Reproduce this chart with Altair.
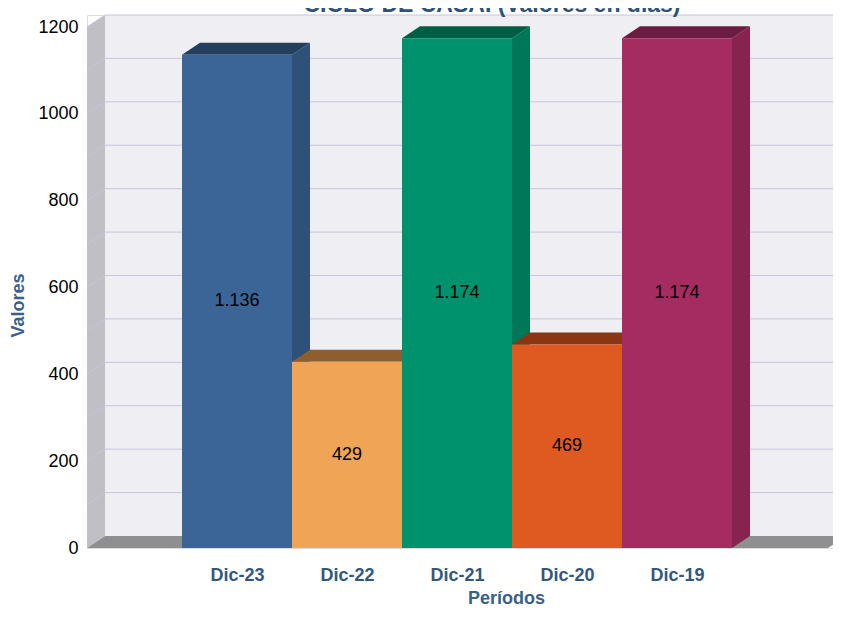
import json
import altair as alt
import pandas as pd

# ---------------- data ----------------
categories = ["Dic-23", "Dic-22", "Dic-21", "Dic-20", "Dic-19"]
values = [1136, 429, 1174, 469, 1174]
value_labels = ["1.136", "429", "1.174", "469", "1.174"]
y_ticks = [0, 200, 400, 600, 800, 1000, 1200]
grid_values = [100, 200, 300, 400, 500, 600, 700, 800, 900, 1000, 1100, 1200]
chart_title = "CICLO DE CASAI (Valores en días)"
x_title = "Períodos"
y_title = "Valores"

# ---------------- style ----------------
front_colors = ["#3A6596", "#F0A556", "#00926C", "#DE5A20", "#A42C60"]
side_colors = ["#2F5079", "#B57C40", "#007756", "#A8441A", "#86234F"]
top_colors = ["#243E5E", "#8E5E2E", "#005E42", "#8A3614", "#6B1C40"]
BACK_WALL = "#EFEEF3"
SIDE_WALL = "#C0BFC5"
FLOOR = "#8F8F91"
GRID = "#C6C5DC"

W, H = 746, 533                 # plot area (px)
PX_PER_CAT = 110                # px per category step
X_MIN = -1.3636                 # left (front) edge of the walls, in category units
X_MAX = X_MIN + W / PX_PER_CAT
X_FLOOR_END = 5.373
Y_TOP = 1200
DEPTH_X_PX, DEPTH_Y_PX = 18, 12
k = (H - DEPTH_Y_PX) / Y_TOP
DX = DEPTH_X_PX / PX_PER_CAT
DY = DEPTH_Y_PX / k
Y_MAX = Y_TOP + DY

xscale = alt.Scale(domain=[X_MIN, X_MAX], nice=False, zero=False)
yscale = alt.Scale(domain=[0, Y_MAX], nice=False, zero=False)

label_expr = json.dumps(categories) + "[datum.value]"
X_AX = alt.Axis(
    values=list(range(len(categories))), labelExpr=label_expr,
    domain=False, ticks=False, tickSize=0, grid=False,
    labelFont="Liberation Sans", labelFontWeight="bold", labelFontSize=18,
    labelColor="#34587A", labelPadding=27, labelBaseline="middle",
    labelFlush=False, labelOverlap=False,
    title=x_title, titleFont="Liberation Sans", titleFontWeight="bold",
    titleFontSize=18, titleColor="#3A6088", titleX=419, titleY=50,
    titleAlign="center", titleBaseline="middle")
Y_AX = alt.Axis(
    values=y_ticks, format="d", domain=False, ticks=False, tickSize=0, grid=False,
    labelFont="Liberation Sans", labelFontSize=18, labelColor="#000000",
    labelPadding=9,
    title=y_title, titleFont="Liberation Sans", titleFontWeight="bold",
    titleFontSize=18, titleColor="#3A6088", titleX=-69, titleY=290,
    titleAlign="center", titleBaseline="middle", titleAngle=-90)


def XE(f):
    return alt.X(f, scale=xscale, axis=X_AX)


def YE(f):
    return alt.Y(f, scale=yscale, axis=Y_AX, stack=None)


def side_poly(key, x0, ylo, yhi, color):
    pts = [(x0, ylo), (x0, yhi), (x0 + DX, yhi + DY), (x0 + DX, ylo + DY)]
    return [dict(key=key, i=j, x=px, y=py, color=color) for j, (px, py) in enumerate(pts)]


def top_poly(key, xa, xb, v, color):
    pts = [(xa, v), (xb, v), (xb + DX, v + DY), (xa + DX, v + DY)]
    return [dict(key=key, i=j, x=px, y=py, color=color) for j, (px, py) in enumerate(pts)]


def poly_layer(rows):
    return alt.Chart(pd.DataFrame(rows)).mark_line(
        filled=True, interpolate="linear-closed", strokeWidth=0
    ).encode(
        x=XE("x:Q"),
        y=YE("y:Q"),
        detail="key:N",
        order=alt.Order("i:Q"),
        fill=alt.Fill("color:N", scale=None),
    )


# back wall
back_df = pd.DataFrame([dict(x=X_MIN + DX, x2=X_MAX + 1, y=DY, y2=Y_MAX, color=BACK_WALL)])
back_wall = alt.Chart(back_df).mark_rect().encode(
    x=XE("x:Q"), x2="x2:Q", y=YE("y:Q"), y2="y2:Q",
    color=alt.Color("color:N", scale=None),
)
left_wall = poly_layer(side_poly("wall", X_MIN, 0, Y_TOP, SIDE_WALL))
floor = poly_layer(top_poly("floor", X_MIN, X_FLOOR_END, 0, FLOOR))

# grid lines (back wall + left wall)
grid_rows = []
for g in grid_values:
    grid_rows.append(dict(x=X_MIN + DX, x2=X_MAX + 1, y=g + DY, y2=g + DY))
    grid_rows.append(dict(x=X_MIN, x2=X_MIN + DX, y=g, y2=g + DY))
grid = alt.Chart(pd.DataFrame(grid_rows)).mark_rule(color=GRID, strokeWidth=1).encode(
    x=XE("x:Q"), x2="x2:Q", y=YE("y:Q"), y2="y2:Q",
)

# bars
side_rows, top_rows, front_rows = [], [], []
for i, (cat, v) in enumerate(zip(categories, values)):
    side_rows += side_poly(cat, i + 0.5, 0, v, side_colors[i])
    top_rows += top_poly(cat, i - 0.5, i + 0.5, v, top_colors[i])
    front_rows.append(dict(cat=cat, x0=i - 0.5, x1=i + 0.5, xc=i, v0=0, v1=v,
                           mid=v / 2, lab=value_labels[i], color=front_colors[i]))
front_df = pd.DataFrame(front_rows)

sides = poly_layer(side_rows)
tops = poly_layer(top_rows)

fronts = alt.Chart(front_df).mark_rect().encode(
    x=XE("x0:Q"), x2="x1:Q", y=YE("v0:Q"), y2="v1:Q",
    color=alt.Color("color:N", scale=None),
)

labels = alt.Chart(front_df).mark_text(
    font="Liberation Sans", fontSize=18, color="#000000", baseline="middle", align="center"
).encode(
    x=XE("xc:Q"), y=YE("mid:Q"), text="lab:N",
)

# title: like the reference, only its lower part is visible at the top edge
title = alt.Chart(pd.DataFrame([dict(t=chart_title)])).mark_text(
    font="Liberation Sans", fontSize=23, fontWeight="bold", color="#2D5275",
    align="center", baseline="alphabetic"
).encode(x=alt.value(405), y=alt.value(-3), text="t:N")

chart = alt.layer(
    back_wall, left_wall, floor, grid, sides, tops, fronts, labels, title
).properties(
    width=W, height=H,
    autosize=alt.AutoSizeParams(type="none"),
    padding={"left": 79, "top": 7, "right": 0, "bottom": 58},
).configure_view(strokeWidth=0).configure(background="#FFFFFF")

chart.save("out.html", embed_options={"renderer": "svg", "actions": False})
